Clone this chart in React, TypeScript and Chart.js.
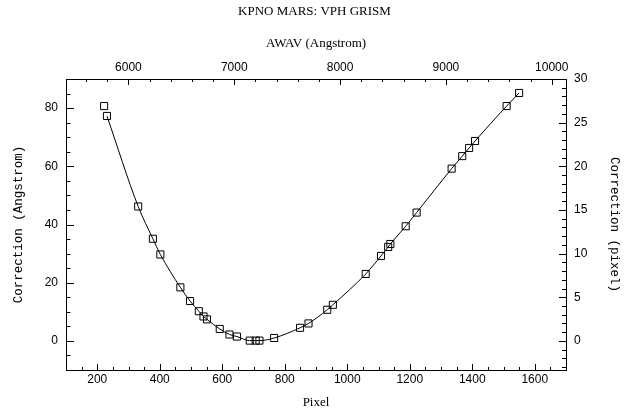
import { useEffect, useRef } from "react";
import { Chart, registerables } from "chart.js";

Chart.register(...registerables);

// ---- data ----
const pixelValues = [
  222, 231, 331, 378, 402, 466, 497, 525, 540, 551, 592, 623, 647, 688, 707, 719,
  766, 849, 876, 936, 954, 1059, 1108, 1131, 1138, 1187, 1222, 1334, 1368, 1390,
  1409, 1510, 1550,
];
const correctionAngstrom = [
  80.7, 77.3, 46.2, 35.1, 29.7, 18.4, 13.7, 10.2, 8.4, 7.4, 4.1, 2.2, 1.5, 0.1, 0.1,
  0.1, 1.0, 4.5, 6.0, 10.7, 12.4, 23.0, 29.2, 32.3, 33.3, 39.4, 44.1, 59.2, 63.5,
  66.3, 68.7, 80.7, 85.2,
];

// ---- axes ----
const pixelTicks = [200, 400, 600, 800, 1000, 1200, 1400, 1600];
const angstromTicks = [0, 20, 40, 60, 80];
const pixelCorrTicks = [0, 5, 10, 15, 20, 25, 30];
const wavelengthTicks = [6000, 7000, 8000, 9000, 10000];

const pixelRange = [100, 1700];
const angstromRange = [-10, 90];
const pixelCorrRange = [-10 / 3, 30];
const wavelengthRange = [5410, 10135];

const pixelMinorStep = 50;
const angstromMinorStep = 5;
const pixelCorrMinorStep = 1;
const wavelengthMinorStep = 200;

const titleText = "KPNO MARS: VPH GRISM";
const topTitle = "AWAV (Angstrom)";
const bottomTitle = "Pixel";
const leftTitle = "Correction (Angstrom)";
const rightTitle = "Correction (pixel)";

const W = 629;
const H = 416;
const AREA = { left: 66, right: 566, top: 79, bottom: 370 };
const TITLE_BOX = 4 + 13 * 1.2;

function minorValues(min: number, max: number, step: number, majors: number[]) {
  const out: number[] = [];
  const start = Math.ceil(min / step - 1e-9) * step;
  for (let v = start; v <= max + 1e-9; v += step) {
    const r = Math.round(v * 1000) / 1000;
    if (!majors.some((m) => Math.abs(m - r) < 1e-6)) out.push(r);
  }
  return out;
}

const inwardTicks = {
  id: "inwardTicks",
  afterDraw(chart: any) {
    const ctx = chart.ctx as CanvasRenderingContext2D;
    const s = chart.scales;
    const { left, right, top, bottom } = chart.chartArea;
    ctx.save();
    ctx.strokeStyle = "#000";
    ctx.lineWidth = 1;
    const hTicks = (scale: any, vals: number[], y: number, dir: number, len: number) => {
      vals.forEach((v) => {
        const p = Math.round(scale.getPixelForValue(v)) + 0.5;
        ctx.beginPath();
        ctx.moveTo(p, y);
        ctx.lineTo(p, y + dir * len);
        ctx.stroke();
      });
    };
    const vTicks = (scale: any, vals: number[], x: number, dir: number, len: number) => {
      vals.forEach((v) => {
        const p = Math.round(scale.getPixelForValue(v)) + 0.5;
        ctx.beginPath();
        ctx.moveTo(x, p);
        ctx.lineTo(x + dir * len, p);
        ctx.stroke();
      });
    };
    hTicks(s.x, pixelTicks, bottom, -1, 6);
    hTicks(s.x, minorValues(pixelRange[0], pixelRange[1], pixelMinorStep, pixelTicks), bottom, -1, 3);
    hTicks(s.xTop, wavelengthTicks, top, 1, 6);
    hTicks(s.xTop, minorValues(wavelengthRange[0], wavelengthRange[1], wavelengthMinorStep, wavelengthTicks), top, 1, 3);
    vTicks(s.y, angstromTicks, left, 1, 8);
    vTicks(s.y, minorValues(angstromRange[0], angstromRange[1], angstromMinorStep, angstromTicks), left, 1, 4.5);
    vTicks(s.yRight, pixelCorrTicks, right, -1, 7);
    vTicks(s.yRight, minorValues(pixelCorrRange[0], pixelCorrRange[1], pixelCorrMinorStep, pixelCorrTicks), right, -1, 4);
    ctx.restore();
  },
};

const tickFont = { family: "'Liberation Sans', Arial, sans-serif", size: 12 };
const serifFont = { family: "'Liberation Serif', 'Times New Roman', serif", size: 13 };
const sideFont = { family: "'Liberation Mono', 'DejaVu Sans Mono', monospace", size: 12.5 };

function baseScale(min: number, max: number, ticks: number[], padding: number) {
  return {
    type: "linear" as const,
    min,
    max,
    grid: { display: false, drawTicks: false },
    border: { display: true, color: "#000", width: 1 },
    afterBuildTicks: (scale: any) => {
      scale.ticks = ticks.map((v) => ({ value: v }));
    },
    ticks: {
      color: "#000",
      font: tickFont,
      padding,
      maxRotation: 0,
      autoSkip: false,
      callback: (v: any) => String(v),
    },
  };
}

export default function App() {
  const ref = useRef<HTMLCanvasElement | null>(null);

  useEffect(() => {
    document.body.style.margin = "0";
    if (!ref.current) return;
    const points = pixelValues.map((x, i) => ({ x, y: correctionAngstrom[i] }));
    const chart = new Chart(ref.current, {
      type: "scatter",
      data: {
        datasets: [
          {
            data: points,
            showLine: false,
            pointStyle: "rect",
            pointRadius: 5,
            pointBorderWidth: 1,
            borderColor: "#000",
            backgroundColor: "rgba(0,0,0,0)",
            xAxisID: "x",
            yAxisID: "y",
          },
          {
            data: points.slice(1),
            showLine: true,
            pointRadius: 0,
            borderColor: "#000",
            borderWidth: 1,
            cubicInterpolationMode: "monotone",
            xAxisID: "x",
            yAxisID: "y",
          },
        ],
      },
      options: {
        responsive: false,
        animation: false,
        events: [],
        layout: { padding: 0 },
        plugins: {
          legend: { display: false },
          tooltip: { enabled: false },
          title: {
            display: true,
            text: titleText,
            color: "#000",
            font: { ...serifFont, weight: "normal" },
            padding: { top: 4, bottom: 0 },
          },
        },
        scales: {
          x: {
            ...baseScale(pixelRange[0], pixelRange[1], pixelTicks, 2),
            position: "bottom",
            axis: "x",
            title: {
              display: true,
              text: bottomTitle,
              color: "#000",
              font: serifFont,
              padding: { top: 0, bottom: 5.2 },
            },
            afterFit: (scale: any) => {
              scale.height = H - AREA.bottom;
            },
          },
          xTop: {
            ...baseScale(wavelengthRange[0], wavelengthRange[1], wavelengthTicks, 4),
            position: "top",
            axis: "x",
            title: {
              display: true,
              text: topTitle,
              color: "#000",
              font: serifFont,
              padding: { top: 16.6, bottom: 0 },
            },
            afterFit: (scale: any) => {
              scale.height = AREA.top - TITLE_BOX;
            },
          },
          y: {
            ...baseScale(angstromRange[0], angstromRange[1], angstromTicks, 8),
            position: "left",
            axis: "y",
            title: {
              display: true,
              text: leftTitle,
              color: "#000",
              font: sideFont,
              padding: { top: 11.5, bottom: 0 },
            },
            afterFit: (scale: any) => {
              scale.width = AREA.left;
            },
          },
          yRight: {
            ...baseScale(pixelCorrRange[0], pixelCorrRange[1], pixelCorrTicks, 8),
            position: "right",
            axis: "y",
            title: {
              display: true,
              text: rightTitle,
              color: "#000",
              font: sideFont,
              padding: { top: 7.5, bottom: 0 },
            },
            afterFit: (scale: any) => {
              scale.width = W - AREA.right;
            },
          },
        },
      } as any,
      plugins: [inwardTicks],
    });
    return () => chart.destroy();
  }, []);

  return (
    <div style={{ position: "absolute", left: 0, top: 0, width: W, height: H, background: "#fff" }}>
      <canvas ref={ref} width={W} height={H} style={{ width: W, height: H, display: "block" }} />
    </div>
  );
}
